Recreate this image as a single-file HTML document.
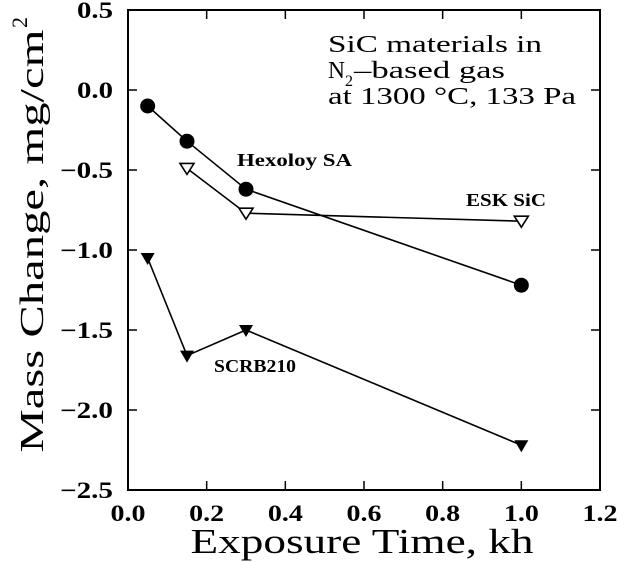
<!DOCTYPE html>
<html><head><meta charset="utf-8"><style>
body{margin:0;background:#fff;}
svg{display:block;font-family:"Liberation Serif",serif;}
</style></head><body>
<svg id="c" width="618" height="562"></svg>
<script>
const xTicks=[0.0,0.2,0.4,0.6,0.8,1.0,1.2];
const xTickLabels=["0.0","0.2","0.4","0.6","0.8","1.0","1.2"];
const yTicks=[0.5,0.0,-0.5,-1.0,-1.5,-2.0,-2.5];
const yTickLabels=["0.5","0.0","\u22120.5","\u22121.0","\u22121.5","\u22122.0","\u22122.5"];
const hexX=[0.05,0.15,0.3,1.0];
const hexY=[-0.1,-0.32,-0.62,-1.22];
const eskX=[0.15,0.3,1.0];
const eskY=[-0.49,-0.77,-0.82];
const scrbX=[0.05,0.15,0.3,1.0];
const scrbY=[-1.05,-1.66,-1.5,-2.22];

const L=128,R=600,T=10,B=490;
const sx=v=>L+(v-0)/1.2*(R-L);
const sy=v=>T+(0.5-v)/3.0*(B-T);
const svg=document.getElementById('c');
const NS='http://www.w3.org/2000/svg';
function mk(tag,attrs,parent){const e=document.createElementNS(NS,tag);for(const k in attrs)e.setAttribute(k,attrs[k]);(parent||svg).appendChild(e);return e;}

let fr=mk('rect',{x:L,y:T,width:R-L,height:B-T,fill:'none',stroke:'#000','stroke-width':2});



xTicks.forEach((v,i)=>{
  const x=sx(v);
  let t1=mk('line',{x1:x,y1:B,x2:x,y2:B-9,stroke:'#000','stroke-width':1.5});
  
  
  let t2=mk('line',{x1:x,y1:T,x2:x,y2:T+9,stroke:'#000','stroke-width':1.5});
  
  
  let tx=mk('text',{x:x,y:B+31,'text-anchor':'middle','font-size':23,'font-weight':'bold',textLength:35,lengthAdjust:'spacingAndGlyphs'});
  tx.textContent=xTickLabels[i];
  
  
});
yTicks.forEach((v,i)=>{
  const y=sy(v);
  let t1=mk('line',{x1:L,y1:y,x2:L+9,y2:y,stroke:'#000','stroke-width':1.5});
  
  
  let t2=mk('line',{x1:R,y1:y,x2:R-9,y2:y,stroke:'#000','stroke-width':1.5});
  
  
  const len=yTickLabels[i].length>3?53:36;
  let tx=mk('text',{x:L-15,y:y+8,'text-anchor':'end','font-size':23,'font-weight':'bold',textLength:len,lengthAdjust:'spacingAndGlyphs'});
  tx.textContent=yTickLabels[i];
  
  
});

function series(xs,ys,name,marker){
  const g=mk('g',{});
  
  
  const pts=xs.map((x,i)=>sx(x)+','+sy(ys[i])).join(' ');
  mk('polyline',{points:pts,fill:'none',stroke:'#000','stroke-width':1.6},g);
  xs.forEach((x,i)=>{
    const cx=sx(x),cy=sy(ys[i]);let m;
    if(marker==='circle')m=mk('circle',{cx:cx,cy:cy,r:7.5,fill:'#000'},g);
    else if(marker==='open')m=mk('polygon',{points:`${cx-7},${cy-5} ${cx+7},${cy-5} ${cx},${cy+6}`,fill:'#fff',stroke:'#000','stroke-width':1.6},g);
    else m=mk('polygon',{points:`${cx-7},${cy-5} ${cx+7},${cy-5} ${cx},${cy+7}`,fill:'#000'},g);
    
    
  });
}
series(eskX,eskY,'esk-sic-series','open');
series(hexX,hexY,'hexoloy-series','circle');
series(scrbX,scrbY,'scrb210-series','filled');

function txt(x,y,s,size,attrs,name){
  const t=mk('text',Object.assign({x:x,y:y,'font-size':size},attrs||{}));
  t.innerHTML=s;
  
  
  return t;
}
txt(237,166,'Hexoloy SA',18,{'font-weight':'bold',textLength:115,lengthAdjust:'spacingAndGlyphs'},'hexoloy-label');
txt(466,206,'ESK SiC',18,{'font-weight':'bold',textLength:80,lengthAdjust:'spacingAndGlyphs'},'esk-label');
txt(214,372,'SCRB210',18,{'font-weight':'bold',textLength:82,lengthAdjust:'spacingAndGlyphs'},'scrb210-label');
txt(328,52,'SiC materials in',24,{textLength:214,lengthAdjust:'spacingAndGlyphs'},'annotation-line1');
txt(328,78,'N',24,{textLength:17,lengthAdjust:'spacingAndGlyphs'},'annotation-line2-n');
txt(345,86,'2',16,{},'annotation-line2-subscript');
txt(354,78,'\u2013based gas',24,{textLength:151,lengthAdjust:'spacingAndGlyphs'},'annotation-line2');
txt(328,104,'at 1300 \u00B0C, 133 Pa',24,{textLength:248,lengthAdjust:'spacingAndGlyphs'},'annotation-line3');
txt(362,553,'Exposure Time, kh',35,{'text-anchor':'middle',textLength:343,lengthAdjust:'spacingAndGlyphs'},'x-axis-title');
txt(0,0,'Mass Change,  mg/cm',34,{'text-anchor':'middle',textLength:423,lengthAdjust:'spacingAndGlyphs',transform:'translate(43,241) rotate(-90)'},'y-axis-title');
txt(0,0,'2',22,{transform:'translate(27,28) rotate(-90)'},'y-axis-title-superscript');
</script>
</body></html>
